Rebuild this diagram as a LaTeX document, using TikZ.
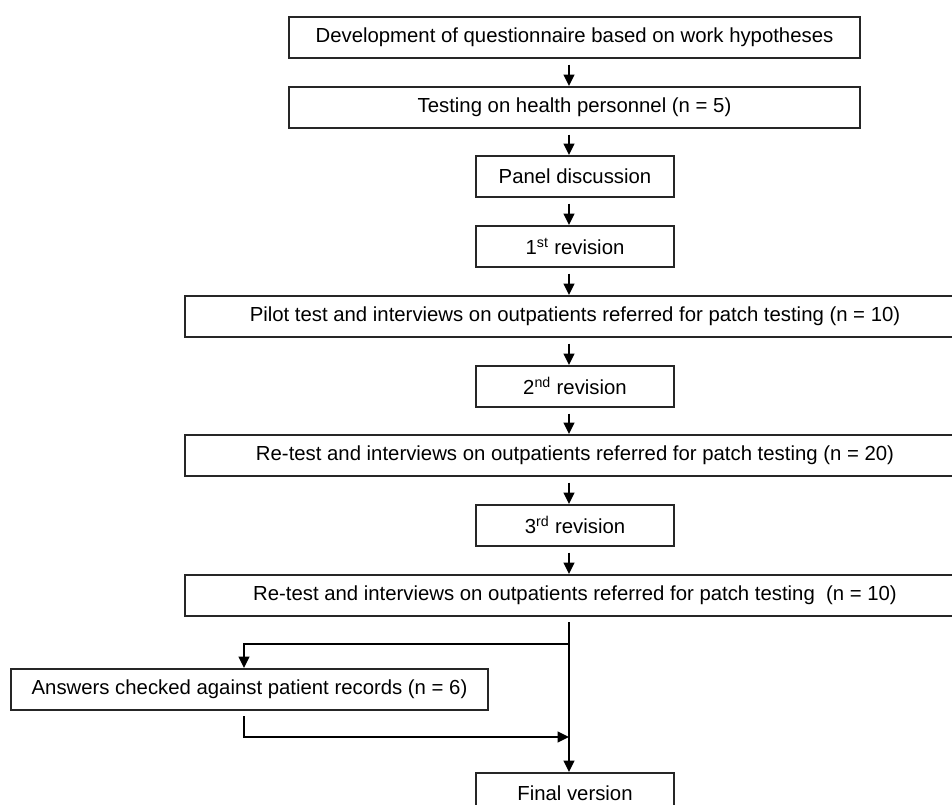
\documentclass[tikz,border=0pt]{standalone}
\usepackage{fontspec}
\setmainfont{Liberation Sans}
\usetikzlibrary{arrows.meta,calc}
\begin{document}
\begin{tikzpicture}[x=0.75pt,y=-0.75pt,
  box/.style={draw=black!85, line width=1.3pt, rectangle, inner sep=0pt,
    minimum height=30.75pt, anchor=north, align=center,
    font=\fontsize{15.25pt}{18pt}\selectfont},
  wbox/.style={box, minimum width=585pt},
  mbox/.style={box, minimum width=428.25pt},
  sbox/.style={box, minimum width=148.5pt},
  abox/.style={box, minimum width=357.75pt},
  arr/.style={draw=black, line width=1.3pt, -{Triangle[length=8.5pt,width=8pt]}},
  ln/.style={draw=black, line width=1.3pt}]
\useasboundingbox (0,0) rectangle (952,805);
\clip (0,0) rectangle (952,805);
\coordinate (spine) at (569,0);
\coordinate (lspine) at (244,0);
\node[mbox] (b1) at (574.5,16) {Development of questionnaire based on work hypotheses};
\node[mbox] (b2) at (574.5,86) {Testing on health personnel (n = 5)};
\node[sbox] (b3) at (575,155) {Panel discussion};
\node[sbox] (b4) at (575,225) {1\textsuperscript{st} revision};
\node[wbox] (b5) at (575,295) {Pilot test and interviews on outpatients referred for patch testing (n = 10)};
\node[sbox] (b6) at (575,365) {2\textsuperscript{nd} revision};
\node[wbox] (b7) at (575,434) {Re-test and interviews on outpatients referred for patch testing (n = 20)};
\node[sbox] (b8) at (575,504) {3\textsuperscript{rd} revision};
\node[wbox] (b9) at (575,574) {Re-test and interviews on outpatients referred for patch testing\ \ (n = 10)};
\node[abox] (ans) at (249.5,668) {Answers checked against patient records (n = 6)};
\node[sbox] (fin) at (575,772) {Final version};
\foreach \a/\b in {b1/b2,b2/b3,b3/b4,b4/b5,b5/b6,b6/b7,b7/b8,b8/b9}{
  \draw[arr] ([yshift=-4.5pt]\a.south -| spine) -- (\b.north -| spine);
}
\coordinate (split) at (569,644);
\coordinate (join) at (569,737);
\draw[arr] ([yshift=-4pt]b9.south -| spine) -- (fin.north -| spine);
\draw[arr] (split) -- (split -| lspine) -- (ans.north -| lspine);
\draw[arr] ([yshift=-4pt]ans.south -| lspine) -- (join -| lspine) -- (join);
\end{tikzpicture}
\end{document}
